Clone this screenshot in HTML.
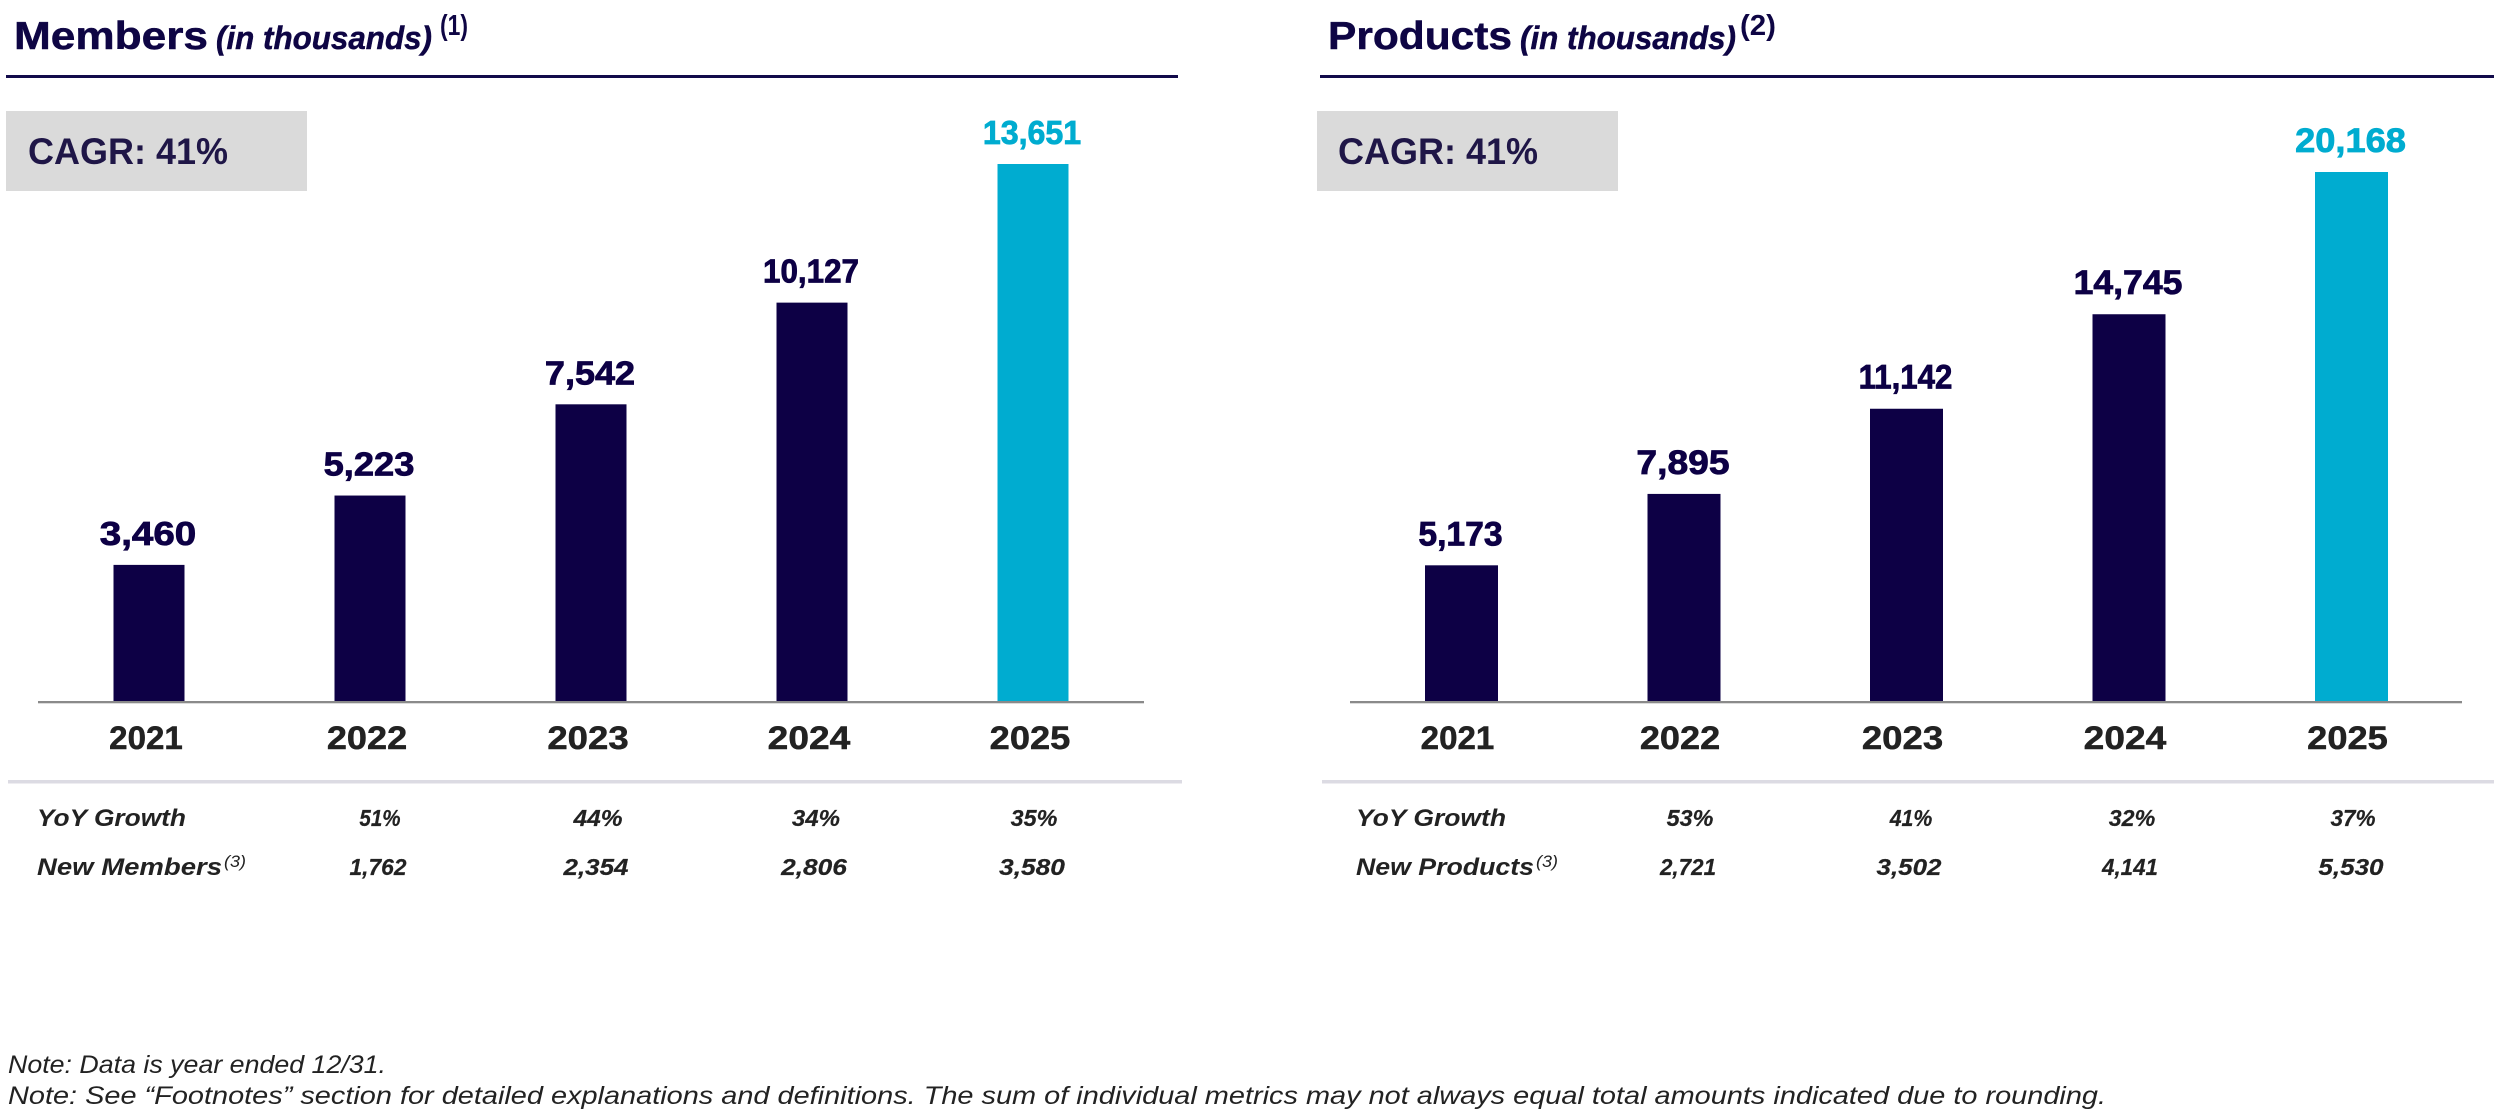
<!DOCTYPE html>
<html lang="en">
<head>
<meta charset="utf-8">
<title>Members and Products</title>
<style>
html,body{margin:0;padding:0;background:#fff;}
svg{display:block;}
text{font-family:"Liberation Sans",sans-serif;}
</style>
</head>
<body>
<svg id="chart" xmlns="http://www.w3.org/2000/svg" width="2504" height="1118" viewBox="0 0 2504 1118">
  <rect x="0" y="0" width="2504" height="1118" fill="#ffffff"/>

  <g fill="#0e0544" stroke="#0e0544" stroke-width="0.5">
    <text x="14" y="49" font-size="39" font-weight="700" textLength="194" lengthAdjust="spacingAndGlyphs">Members</text>
    <text x="216" y="49" font-size="32" font-weight="700" font-style="italic" textLength="216" lengthAdjust="spacingAndGlyphs">(in thousands)</text>
    <text x="440" y="35" font-size="29" font-weight="700" stroke="none" textLength="28" lengthAdjust="spacingAndGlyphs">(1)</text>
  </g>
  <rect x="6" y="75" width="1172" height="3" fill="#120a4a"/>
  <rect x="6" y="111" width="301" height="80" fill="#dadada"/>
  <text x="28" y="164" font-size="37" font-weight="700" fill="#1f1647" textLength="200" lengthAdjust="spacingAndGlyphs">CAGR: 41%</text>

  <g fill="#0e0544" stroke="#0e0544" stroke-width="0.5">
    <text x="1328" y="49" font-size="39" font-weight="700" textLength="184" lengthAdjust="spacingAndGlyphs">Products</text>
    <text x="1520" y="49" font-size="32" font-weight="700" font-style="italic" textLength="216" lengthAdjust="spacingAndGlyphs">(in thousands)</text>
    <text x="1740" y="35" font-size="29" font-weight="700" stroke="none" textLength="36" lengthAdjust="spacingAndGlyphs">(2)</text>
  </g>
  <rect x="1320" y="75" width="1174" height="3" fill="#120a4a"/>
  <rect x="1317" y="111" width="301" height="80" fill="#dadada"/>
  <text x="1338" y="164" font-size="37" font-weight="700" fill="#1f1647" textLength="200" lengthAdjust="spacingAndGlyphs">CAGR: 41%</text>

  <g id="members-plot"></g>
  <g id="products-plot"></g>

  <rect x="8" y="780" width="1174" height="3.5" fill="#dcdbe3"/>
  <rect x="1322" y="780" width="1172" height="3.5" fill="#dcdbe3"/>

  <g fill="#222222" font-weight="700" font-style="italic">
    <text x="37" y="826" font-size="24" textLength="149" lengthAdjust="spacingAndGlyphs">YoY Growth</text>
    <text x="37" y="875" font-size="24" textLength="185" lengthAdjust="spacingAndGlyphs">New Members</text>
    <text x="224" y="867" font-size="17" font-weight="400" textLength="22" lengthAdjust="spacingAndGlyphs">(3)</text>
  </g>
  <g fill="#222222" font-weight="700" font-style="italic">
    <text x="1356" y="826" font-size="24" textLength="150" lengthAdjust="spacingAndGlyphs">YoY Growth</text>
    <text x="1356" y="875" font-size="24" textLength="178" lengthAdjust="spacingAndGlyphs">New Products</text>
    <text x="1536" y="867" font-size="17" font-weight="400" textLength="22" lengthAdjust="spacingAndGlyphs">(3)</text>
  </g>

  <g fill="#222222" font-style="italic" font-size="25">
    <text x="8" y="1073" textLength="378" lengthAdjust="spacingAndGlyphs">Note: Data is year ended 12/31.</text>
    <text x="8" y="1104" textLength="2098" lengthAdjust="spacingAndGlyphs">Note: See “Footnotes” section for detailed explanations and definitions. The sum of individual metrics may not always equal total amounts indicated due to rounding.</text>
  </g>
</svg>

<script>
const years = ['2021', '2022', '2023', '2024', '2025'];
const memberValues = [3460, 5223, 7542, 10127, 13651];
const productValues = [5173, 7895, 11142, 14745, 20168];
const memberGrowth = [51, 44, 34, 35];
const productGrowth = [53, 41, 32, 37];
const newMembers = [1762, 2354, 2806, 3580];
const newProducts = [2721, 3502, 4141, 5530];

const SVG_NS = 'http://www.w3.org/2000/svg';
const NAVY = '#0d0045';
const TEAL = '#00acd0';
const BASELINE = 701;
const GLYPH_EM = {'0':.68,'1':.40,'2':.61,'3':.64,'4':.68,'5':.62,'6':.65,'7':.55,'8':.65,'9':.65,',':.27,'%':.77};

function textWidth(str, size) {
  let em = 0;
  for (const ch of str) em += GLYPH_EM[ch] || .6;
  return em * size;
}
function formatNumber(v) {
  return Number(v).toLocaleString('en-US');
}
function addText(parent, str, x, y, size, fill, italic, weight) {
  const t = document.createElementNS(SVG_NS, 'text');
  t.setAttribute('x', x);
  t.setAttribute('y', y);
  t.setAttribute('font-size', size);
  t.setAttribute('font-weight', '700');
  if (italic) t.setAttribute('font-style', 'italic');
  t.setAttribute('fill', fill);
  t.setAttribute('stroke', fill);
  t.setAttribute('stroke-width', weight);
  t.setAttribute('text-anchor', 'middle');
  t.setAttribute('textLength', textWidth(str, size).toFixed(1));
  t.setAttribute('lengthAdjust', 'spacingAndGlyphs');
  t.textContent = str;
  parent.appendChild(t);
  return t;
}

function drawPanel(prefix, values, growth, added, layout) {
  const group = document.getElementById(prefix + '-plot');
  const maxValue = Math.max.apply(null, values);
  const yScale = function (v) { return BASELINE - v * layout.pxPerUnit; };
  const xScale = function (i) { return layout.firstCenter + i * layout.step; };
  const growthX = function (i) { return layout.growthStart + i * layout.columnStep; };
  const addedX = function (i) { return layout.addedStart + i * layout.columnStep; };

  const axis = document.createElementNS(SVG_NS, 'rect');
  axis.setAttribute('x', layout.axisLeft);
  axis.setAttribute('y', BASELINE);
  axis.setAttribute('width', layout.axisRight - layout.axisLeft);
  axis.setAttribute('height', 2.3);
  axis.setAttribute('fill', '#8a8a8a');
  
  
  group.appendChild(axis);

  values.forEach(function (v, i) {
    const cx = xScale(i);
    const top = yScale(v);
    const bar = document.createElementNS(SVG_NS, 'rect');
    bar.setAttribute('x', cx - layout.barWidth / 2);
    bar.setAttribute('y', top);
    bar.setAttribute('width', layout.barWidth);
    bar.setAttribute('height', BASELINE - top);
    bar.setAttribute('fill', v === maxValue ? TEAL : NAVY);
    
    
    group.appendChild(bar);

    const label = addText(group, formatNumber(v), cx - 1, top - 20, layout.valueSize, v === maxValue ? TEAL : NAVY, false, 0.8);
    
    

    const tick = addText(group, years[i], cx + layout.yearOffset, 749, 32, '#222222', false, 0.5);
    
    
  });

  growth.forEach(function (g, i) {
    const cell = addText(group, g + '%', growthX(i), 826, 23, '#222222', true, 0.2);
    
    
  });

  added.forEach(function (n, i) {
    const cell = addText(group, formatNumber(n), addedX(i), 875, 23, '#222222', true, 0.2);
    
    
  });
}

drawPanel('members', memberValues, memberGrowth, newMembers, {
  pxPerUnit: 537 / 13651,
  firstCenter: 149,
  step: 221,
  barWidth: 71,
  axisLeft: 38,
  axisRight: 1144,
  valueSize: 33,
  yearOffset: -3,
  growthStart: 380,
  addedStart: 378,
  columnStep: 218
});

drawPanel('products', productValues, productGrowth, newProducts, {
  pxPerUnit: 529 / 20168,
  firstCenter: 1461.5,
  step: 222.5,
  barWidth: 73,
  axisLeft: 1350,
  axisRight: 2462,
  valueSize: 34,
  yearOffset: -4,
  growthStart: 1690,
  addedStart: 1688,
  columnStep: 221
});
</script>
</body>
</html>
